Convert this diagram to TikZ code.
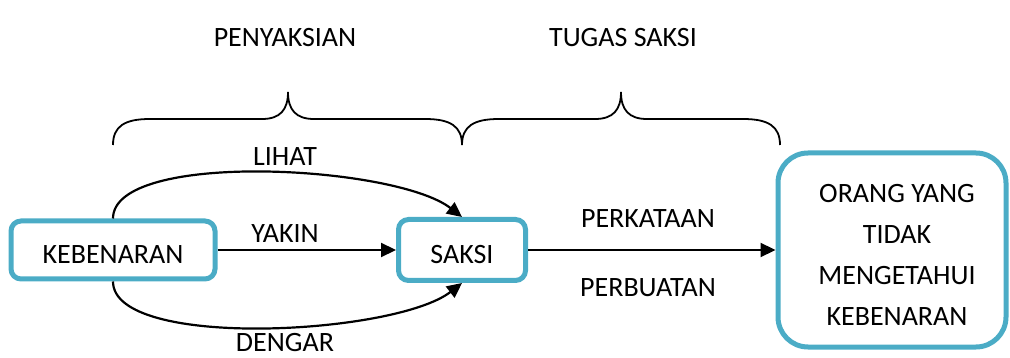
\documentclass[tikz,border=0pt]{standalone}
\usepackage{fontspec}
\setmainfont{Carlito}
\usetikzlibrary{arrows.meta}
\definecolor{boxblue}{RGB}{75,172,198}
\begin{document}
\begin{tikzpicture}[x=1pt,y=-1pt,
  every node/.style={font=\fontsize{28}{41}\selectfont, inner sep=0pt},
  bluebox/.style={draw=boxblue, line width=5pt, rounded corners=10pt, text height=28pt, text depth=0pt},
  conn/.style={line width=2.2pt, -{Triangle[length=15pt,width=14pt]}},
  brace/.style={line width=1.8pt}
]
\useasboundingbox (0,0) rectangle (1010,358);
% boxes
\node[bluebox, minimum width=204pt, minimum height=58pt] (kb) at (113,250) {KEBENARAN};
\node[bluebox, minimum width=127pt, minimum height=61pt] (saksi) at (462,250) {SAKSI};
\node[draw=boxblue, line width=5pt, rounded corners=30pt, minimum width=228pt, minimum height=194pt] (big) at (892,250) {};
\node[align=center, anchor=north] (bigtext) at (897,184) {ORANG YANG\\TIDAK\\MENGETAHUI\\KEBENARAN};
% connectors
\draw[conn] (kb.east) -- (saksi.west);
\draw[conn] (saksi.east) -- (big.west);
\draw[conn] (kb.north) .. controls (113,150) and (395,165) .. (saksi.north);
\draw[conn] (kb.south) .. controls (113,350) and (395,335) .. (saksi.south);
% labels
\node[anchor=base] (lihat) at (285,166) {LIHAT};
\node[anchor=base] (yakin) at (285,243) {YAKIN};
\node[anchor=base] (dengar) at (285,351) {DENGAR};
\node[anchor=base] (perkataan) at (648,228) {PERKATAAN};
\node[anchor=base] (perbuatan) at (648,297) {PERBUATAN};
\node[anchor=base] (penyaksian) at (285,47) {PENYAKSIAN};
\node[anchor=base] (tugas) at (623,47) {TUGAS SAKSI};
% braces
\draw[brace] (113,145) .. controls (113,126) and (125,119) .. (150,119) -- (262,119)
  .. controls (280,119) and (288,110) .. (288,92)
  .. controls (288,110) and (296,119) .. (314,119) -- (425,119)
  .. controls (450,119) and (462,126) .. (462,145);
\draw[brace] (462,145) .. controls (462,126) and (474,119) .. (499,119) -- (595,119)
  .. controls (613,119) and (621,110) .. (621,92)
  .. controls (621,110) and (629,119) .. (647,119) -- (743,119)
  .. controls (768,119) and (780,126) .. (780,145);
\end{tikzpicture}
\end{document}
